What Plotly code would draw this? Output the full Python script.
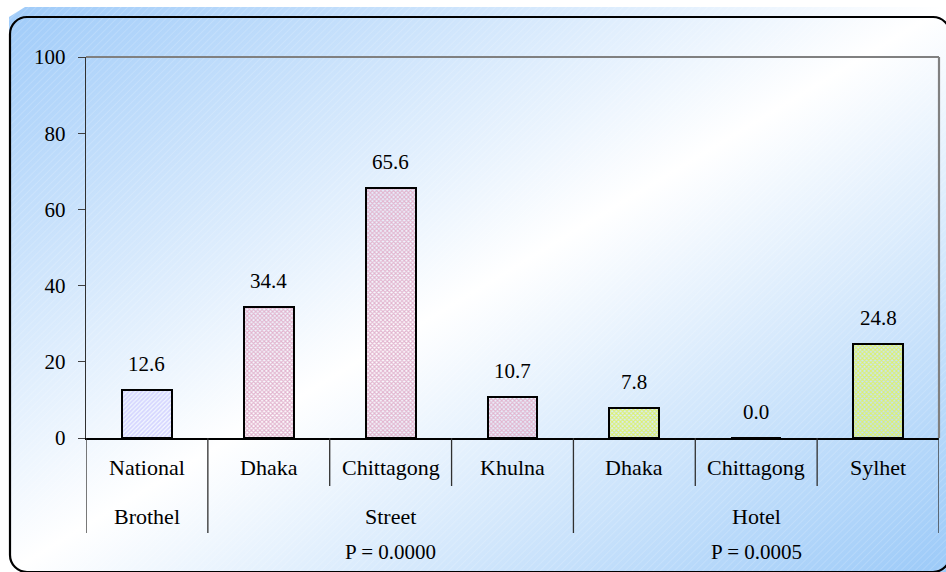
import base64
import plotly.graph_objects as go

# ---- data ----
cities = ["National", "Dhaka", "Chittagong", "Khulna", "Dhaka", "Chittagong", "Sylhet"]
groups = ["Brothel", "Street", "Street", "Street", "Hotel", "Hotel", "Hotel"]
values = [12.6, 34.4, 65.6, 10.7, 7.8, 0.0, 24.8]
group_pvalues = {"Brothel": "", "Street": "P = 0.0000", "Hotel": "P = 0.0005"}
y_ticks = [0, 20, 40, 60, 80, 100]

# ---- styles ----
FONT = "Liberation Serif"
FS = 21
group_style = {
    "Brothel": dict(shape="/", fg="#5c5cec", bg="#d6d6ff"),
    "Street": dict(shape="x", fg="#b46690", bg="#e2b4ce"),
    "Hotel": dict(shape="x", fg="#96bf00", bg="#dcf070"),
}

x = list(range(len(values)))

fig = go.Figure()
fig.add_trace(go.Bar(
    x=x, y=values, width=0.41,
    marker=dict(
        color=[group_style[g]["bg"] for g in groups],
        line=dict(color="black", width=2),
        pattern=dict(
            shape=[group_style[g]["shape"] for g in groups],
            fgcolor=[group_style[g]["fg"] for g in groups],
            bgcolor=[group_style[g]["bg"] for g in groups],
            size=3, solidity=0.6, fillmode="replace",
        ),
    ),
    hoverinfo="skip",
))

# value labels
for xi, v in zip(x, values):
    fig.add_annotation(x=xi, y=v, xref="x", yref="y", text=f"{v:.1f}",
                       showarrow=False, yanchor="middle", yshift=26,
                       font=dict(family=FONT, size=FS, color="black"))

# axis geometry (paper fractions)
W, H = 946, 572
x0_px, x1_px = 86, 939
ytop_px, ybot_px = 57, 438
row1_end = (H - 486) / H
row2_end = (H - 533) / H
row1_y = (H - 468) / H
row2_y = (H - 516) / H
row3_y = (H - 552) / H
ax_y = (H - ybot_px) / H

# category labels (row 1)
for xi, c in zip(x, cities):
    fig.add_annotation(x=xi, y=row1_y, xref="x", yref="paper", text=c, showarrow=False,
                       yanchor="middle", font=dict(family=FONT, size=22, color="black"))

# group labels (row 2) and p-values (row 3)
spans = []
for i, g in enumerate(groups):
    if spans and spans[-1][0] == g:
        spans[-1][2] = i
    else:
        spans.append([g, i, i])
for g, a, b in spans:
    cx = (a + b) / 2
    fig.add_annotation(x=cx, y=row2_y, xref="x", yref="paper", text=g, showarrow=False,
                       yanchor="middle", font=dict(family=FONT, size=22, color="black"))
    if group_pvalues.get(g):
        fig.add_annotation(x=cx, y=row3_y, xref="x", yref="paper", text=group_pvalues[g],
                           showarrow=False, yanchor="middle",
                           font=dict(family=FONT, size=FS, color="black"))

# category / group dividers
group_bounds = set()
for g, a, b in spans:
    group_bounds.add(a - 0.5)
    group_bounds.add(b + 0.5)
for k in range(len(values) + 1):
    bx = k - 0.5
    yend = row2_end if bx in group_bounds else row1_end
    fig.add_shape(type="line", xref="x", yref="paper", x0=bx, x1=bx, y0=ax_y, y1=yend,
                  line=dict(color="#303030", width=1.3))

# top and right frame of plot area
fig.add_shape(type="line", xref="x domain", yref="y domain", x0=0, x1=1, y0=1, y1=1,
              line=dict(color="#808080", width=2.2))
fig.add_shape(type="line", xref="x domain", yref="y domain", x0=1, x1=1, y0=0, y1=1,
              line=dict(color="#808080", width=2.2))

# background (gradient + rounded frame)
svg = """<svg xmlns="http://www.w3.org/2000/svg" width="946" height="572" viewBox="0 0 946 572" preserveAspectRatio="none">
<defs>
<linearGradient id="g" x1="0" y1="0" x2="1" y2="1">
<stop offset="0" stop-color="#9fcbf9"/>
<stop offset="0.5" stop-color="#ffffff"/>
<stop offset="1" stop-color="#9ccaf8"/>
</linearGradient>
<pattern id="s" width="5" height="5" patternUnits="userSpaceOnUse" patternTransform="rotate(45)">
<line x1="0" y1="0" x2="0" y2="5" stroke="#ffffff" stroke-width="1" stroke-opacity="0.3"/>
</pattern>
</defs>
<polygon points="25,7 946,7 946,572 9,572 9,17" fill="url(#g)"/>
<polygon points="25,7 946,7 946,572 9,572 9,17" fill="url(#s)"/>
<rect x="10" y="17" width="940" height="555" rx="17" ry="17" fill="none" stroke="#000000" stroke-width="2.2"/>
</svg>"""
src = "data:image/svg+xml;base64," + base64.b64encode(svg.encode()).decode()
fig.add_layout_image(dict(source=src, xref="paper", yref="paper", x=0, y=1, sizex=1, sizey=1,
                          sizing="stretch", xanchor="left", yanchor="top", layer="below"))

fig.update_layout(
    width=W, height=H,
    margin=dict(l=0, r=0, t=0, b=0, pad=0, autoexpand=False),
    paper_bgcolor="white", plot_bgcolor="rgba(0,0,0,0)",
    showlegend=False,
    bargap=0,
    font=dict(family=FONT, size=FS, color="black"),
    xaxis=dict(domain=[x0_px / W, x1_px / W], range=[-0.5, len(values) - 0.5],
               showticklabels=False, ticks="", showgrid=False, zeroline=False,
               automargin=False,
               showline=True, linecolor="black", linewidth=1.6, fixedrange=True),
    yaxis=dict(domain=[ax_y, (H - ytop_px) / H], range=[0, 100], tickvals=y_ticks,
               ticks="outside", ticklen=7, tickcolor="#404040", tickwidth=1.3,
               showline=True, linecolor="#303030", linewidth=1.4, showgrid=False,
               zeroline=False, ticklabelstandoff=8, automargin=False,
               tickfont=dict(family=FONT, size=FS, color="black"), fixedrange=True),
)

post = (
    "document.documentElement.style.cssText='margin:0;padding:0;overflow:hidden;';"
    "document.body.style.cssText='margin:0;padding:0;overflow:hidden;';"
)
fig.write_html("out.html", post_script=post, config={"displayModeBar": False})
